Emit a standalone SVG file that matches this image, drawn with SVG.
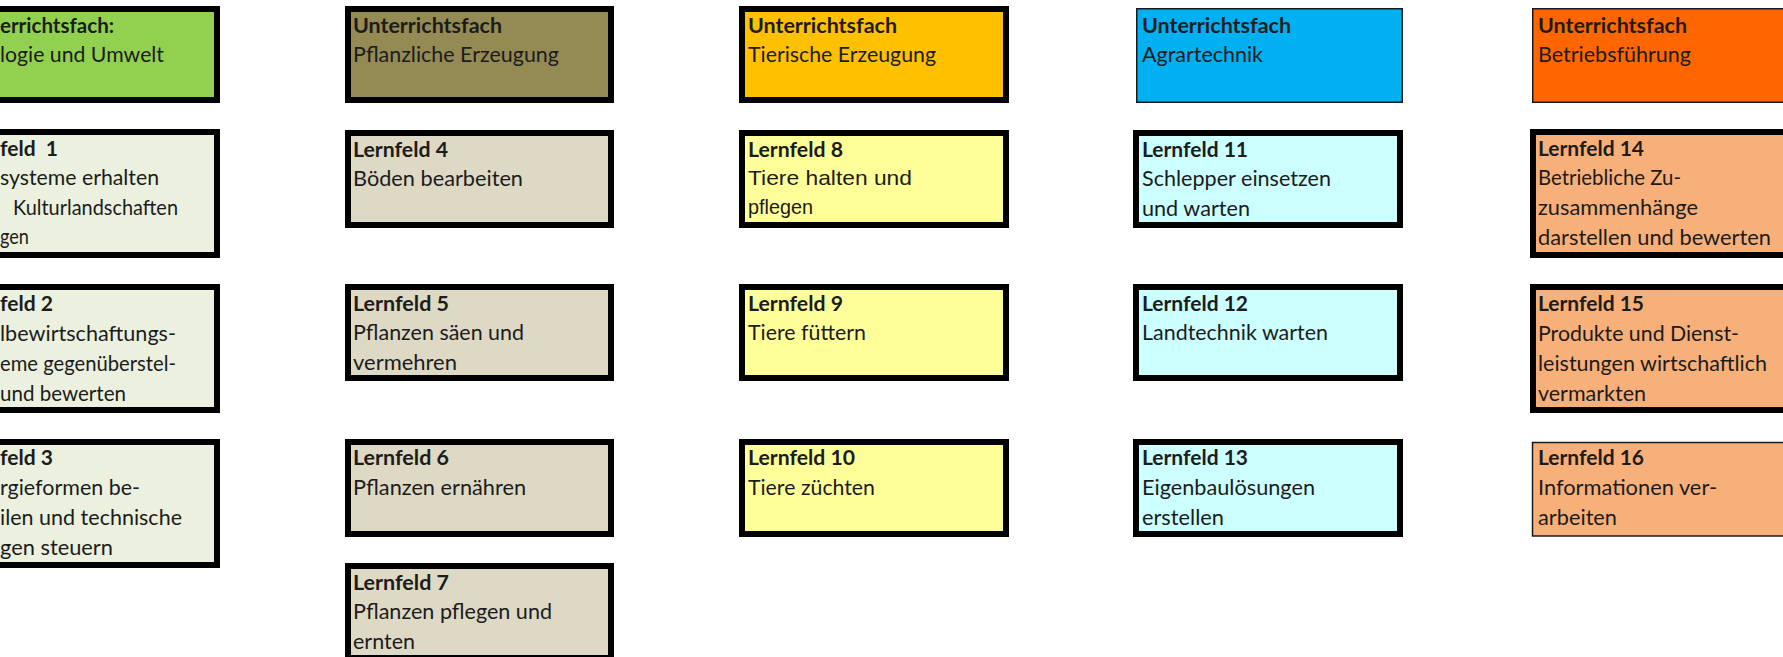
<svg xmlns="http://www.w3.org/2000/svg" width="1783" height="657" viewBox="0 0 1783 657">
<style>
rect.k{stroke:#000;stroke-width:6}
rect.n{stroke:#1a1a1a;stroke-width:1.5}
text{font-family:Lato,"Open Sans","Liberation Sans",sans-serif;font-size:20.5px;fill:#1c1c1c}
text.b{font-weight:700}
text.a{font-family:"Liberation Sans",Arial,sans-serif;font-size:21px}
.g1h{fill:#92D050}.g1{fill:#EBF1DE}
.g2h{fill:#948A54}.g2{fill:#DDD9C4}
.g3h{fill:#FFC000}.g3{fill:#FFFF99}
.g4h{fill:#00B0F0}.g4{fill:#CCFFFF}
.g5h{fill:#FF6600}.g5{fill:#F8B07A}
</style>
<rect width="1783" height="657" fill="#fff"/>

<!-- Column 1 -->
<g id="fach-oekologie">
<rect class="k g1h" x="-46" y="9" width="263" height="91"/>
<text class="b" x="0" y="32.5" textLength="114" lengthAdjust="spacingAndGlyphs">errichtsfach:</text>
<text x="0" y="62" textLength="164" lengthAdjust="spacingAndGlyphs">logie und Umwelt</text>
</g>
<g id="lf1">
<rect class="k g1" x="-46" y="132" width="263" height="123"/>
<text class="b" x="0" y="155.5" textLength="58" lengthAdjust="spacingAndGlyphs">feld&#160; 1</text>
<text x="0" y="185" textLength="159" lengthAdjust="spacingAndGlyphs">systeme erhalten</text>
<text x="13" y="214.5" textLength="165" lengthAdjust="spacingAndGlyphs">Kulturlandschaften</text>
<text x="0" y="244" textLength="29" lengthAdjust="spacingAndGlyphs">gen</text>
</g>
<g id="lf2">
<rect class="k g1" x="-46" y="287" width="263" height="123"/>
<text class="b" x="0" y="310.5" textLength="53" lengthAdjust="spacingAndGlyphs">feld 2</text>
<text x="0" y="340.5" textLength="176" lengthAdjust="spacingAndGlyphs">lbewirtschaftungs-</text>
<text x="0" y="370.5" textLength="176" lengthAdjust="spacingAndGlyphs">eme gegenüberstel-</text>
<text x="0" y="400.5" textLength="126" lengthAdjust="spacingAndGlyphs">und bewerten</text>
</g>
<g id="lf3">
<rect class="k g1" x="-46" y="442" width="263" height="123"/>
<text class="b" x="0" y="465" textLength="53" lengthAdjust="spacingAndGlyphs">feld 3</text>
<text x="0" y="494.5" textLength="140" lengthAdjust="spacingAndGlyphs">rgieformen be-</text>
<text x="0" y="524.5" textLength="182" lengthAdjust="spacingAndGlyphs">ilen und technische</text>
<text x="0" y="554.5" textLength="113" lengthAdjust="spacingAndGlyphs">gen steuern</text>
</g>

<!-- Column 2 -->
<g id="fach-pflanzlich">
<rect class="k g2h" x="348" y="9" width="263" height="91"/>
<text class="b" x="353" y="32.5" textLength="149" lengthAdjust="spacingAndGlyphs">Unterrichtsfach</text>
<text x="353" y="62" textLength="206" lengthAdjust="spacingAndGlyphs">Pflanzliche Erzeugung</text>
</g>
<g id="lf4">
<rect class="k g2" x="348" y="133" width="263" height="92"/>
<text class="b" x="353" y="156.5" textLength="95" lengthAdjust="spacingAndGlyphs">Lernfeld 4</text>
<text x="353" y="186" textLength="170" lengthAdjust="spacingAndGlyphs">Böden bearbeiten</text>
</g>
<g id="lf5">
<rect class="k g2" x="348" y="287" width="263" height="91"/>
<text class="b" x="353" y="310.5" textLength="96" lengthAdjust="spacingAndGlyphs">Lernfeld 5</text>
<text x="353" y="340" textLength="171" lengthAdjust="spacingAndGlyphs">Pflanzen säen und</text>
<text x="353" y="369.5" textLength="104" lengthAdjust="spacingAndGlyphs">vermehren</text>
</g>
<g id="lf6">
<rect class="k g2" x="348" y="442" width="263" height="92"/>
<text class="b" x="353" y="465" textLength="96" lengthAdjust="spacingAndGlyphs">Lernfeld 6</text>
<text x="353" y="495" textLength="173" lengthAdjust="spacingAndGlyphs">Pflanzen ernähren</text>
</g>
<g id="lf7">
<rect class="k g2" x="348" y="566" width="263" height="92"/>
<text class="b" x="353" y="589.5" textLength="96" lengthAdjust="spacingAndGlyphs">Lernfeld 7</text>
<text x="353" y="619" textLength="199" lengthAdjust="spacingAndGlyphs">Pflanzen pflegen und</text>
<text x="353" y="648.5" textLength="62" lengthAdjust="spacingAndGlyphs">ernten</text>
</g>

<!-- Column 3 -->
<g id="fach-tierisch">
<rect class="k g3h" x="742" y="9" width="264" height="91"/>
<text class="b" x="748" y="32.5" textLength="149" lengthAdjust="spacingAndGlyphs">Unterrichtsfach</text>
<text x="748" y="62" textLength="188" lengthAdjust="spacingAndGlyphs">Tierische Erzeugung</text>
</g>
<g id="lf8">
<rect class="k g3" x="742" y="133" width="264" height="92"/>
<text class="b" x="748" y="156.5" textLength="95" lengthAdjust="spacingAndGlyphs">Lernfeld 8</text>
<text class="a" x="748" y="185" textLength="164" lengthAdjust="spacingAndGlyphs">Tiere halten und</text>
<text class="a" x="748" y="213.5" textLength="65" lengthAdjust="spacingAndGlyphs">pflegen</text>
</g>
<g id="lf9">
<rect class="k g3" x="742" y="287" width="264" height="91"/>
<text class="b" x="748" y="310.5" textLength="95" lengthAdjust="spacingAndGlyphs">Lernfeld 9</text>
<text x="748" y="340" textLength="118" lengthAdjust="spacingAndGlyphs">Tiere füttern</text>
</g>
<g id="lf10">
<rect class="k g3" x="742" y="442" width="264" height="92"/>
<text class="b" x="748" y="465" textLength="107" lengthAdjust="spacingAndGlyphs">Lernfeld 10</text>
<text x="748" y="495" textLength="127" lengthAdjust="spacingAndGlyphs">Tiere züchten</text>
</g>

<!-- Column 4 -->
<g id="fach-agrartechnik">
<rect class="n g4h" x="1136.75" y="8.75" width="265.5" height="93.5"/>
<text class="b" x="1142" y="32.5" textLength="149" lengthAdjust="spacingAndGlyphs">Unterrichtsfach</text>
<text x="1142" y="62" textLength="121" lengthAdjust="spacingAndGlyphs">Agrartechnik</text>
</g>
<g id="lf11">
<rect class="k g4" x="1136" y="133" width="264" height="92"/>
<text class="b" x="1142" y="156.5" textLength="106" lengthAdjust="spacingAndGlyphs">Lernfeld 11</text>
<text x="1142" y="186" textLength="189" lengthAdjust="spacingAndGlyphs">Schlepper einsetzen</text>
<text x="1142" y="215.5" textLength="108" lengthAdjust="spacingAndGlyphs">und warten</text>
</g>
<g id="lf12">
<rect class="k g4" x="1136" y="287" width="264" height="91"/>
<text class="b" x="1142" y="310.5" textLength="106" lengthAdjust="spacingAndGlyphs">Lernfeld 12</text>
<text x="1142" y="340" textLength="186" lengthAdjust="spacingAndGlyphs">Landtechnik warten</text>
</g>
<g id="lf13">
<rect class="k g4" x="1136" y="442" width="264" height="92"/>
<text class="b" x="1142" y="465" textLength="106" lengthAdjust="spacingAndGlyphs">Lernfeld 13</text>
<text x="1142" y="495" textLength="173" lengthAdjust="spacingAndGlyphs">Eigenbaulösungen</text>
<text x="1142" y="524.5" textLength="82" lengthAdjust="spacingAndGlyphs">erstellen</text>
</g>

<!-- Column 5 -->
<g id="fach-betriebsfuehrung">
<rect class="n g5h" x="1532.75" y="8.75" width="265.5" height="93.5"/>
<text class="b" x="1538" y="32.5" textLength="149" lengthAdjust="spacingAndGlyphs">Unterrichtsfach</text>
<text x="1538" y="62" textLength="153" lengthAdjust="spacingAndGlyphs">Betriebsführung</text>
</g>
<g id="lf14">
<rect class="k g5" x="1533" y="132" width="264" height="123"/>
<text class="b" x="1538" y="155.5" textLength="106" lengthAdjust="spacingAndGlyphs">Lernfeld 14</text>
<text x="1538" y="185" textLength="143" lengthAdjust="spacingAndGlyphs">Betriebliche Zu-</text>
<text x="1538" y="214.5" textLength="160" lengthAdjust="spacingAndGlyphs">zusammenhänge</text>
<text x="1538" y="244.5" textLength="233" lengthAdjust="spacingAndGlyphs">darstellen und bewerten</text>
</g>
<g id="lf15">
<rect class="k g5" x="1533" y="287" width="264" height="123"/>
<text class="b" x="1538" y="310.5" textLength="106" lengthAdjust="spacingAndGlyphs">Lernfeld 15</text>
<text x="1538" y="340.5" textLength="201" lengthAdjust="spacingAndGlyphs">Produkte und Dienst-</text>
<text x="1538" y="370.5" textLength="229" lengthAdjust="spacingAndGlyphs">leistungen wirtschaftlich</text>
<text x="1538" y="400.5" textLength="108" lengthAdjust="spacingAndGlyphs">vermarkten</text>
</g>
<g id="lf16">
<rect class="n g5" x="1532.5" y="442.5" width="265" height="93.5"/>
<text class="b" x="1538" y="465" textLength="106" lengthAdjust="spacingAndGlyphs">Lernfeld 16</text>
<text x="1538" y="495" textLength="179" lengthAdjust="spacingAndGlyphs">Informationen ver-</text>
<text x="1538" y="524.5" textLength="79" lengthAdjust="spacingAndGlyphs">arbeiten</text>
</g>
</svg>
